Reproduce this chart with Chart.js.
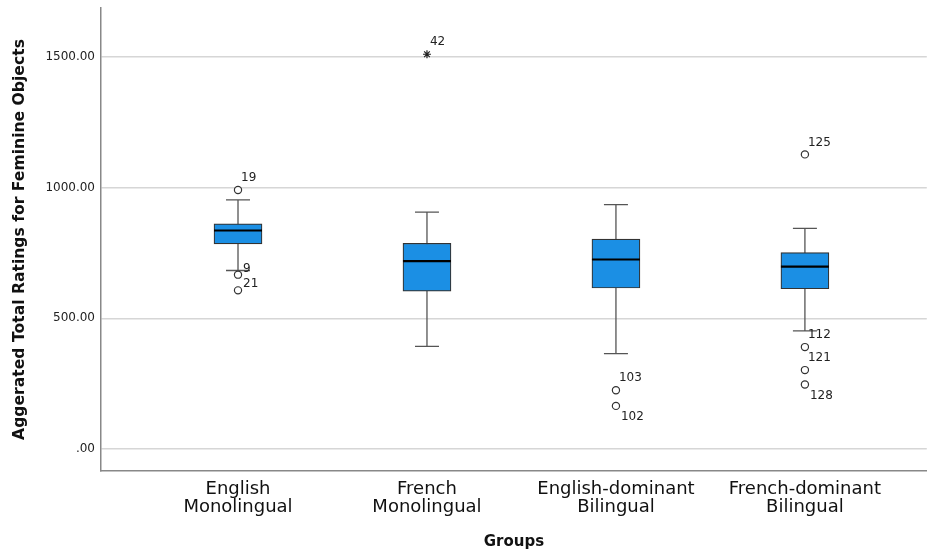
<!DOCTYPE html>
<html>
<head>
<meta charset="utf-8">
<script src="https://cdn.jsdelivr.net/npm/chart.js@4.4.1/dist/chart.umd.min.js"></script>
<style>
  html, body { margin: 0; padding: 0; background: #fff; overflow: hidden; }
  #wrap { width: 932px; height: 557px; }
</style>
</head>
<body>
<div id="wrap"><canvas id="boxChart"></canvas></div>
<script>
// groups and box statistics
const groups = [["English", "Monolingual"], ["French", "Monolingual"], ["English-dominant", "Bilingual"], ["French-dominant", "Bilingual"]];
const whiskerLow = [683, 393, 365, 452];
const q1 = [785, 604, 616, 613];
const median = [836, 719, 725, 698];
const q3 = [861, 787, 803, 751];
const whiskerHigh = [953, 906, 935, 844];

// outliers (circles): group number, value, case id
const outlierGroup = [1, 1, 1, 3, 3, 4, 4, 4, 4];
const outlierValue = [991, 667, 607, 225, 165, 1127, 390, 302, 247];
const outlierId = ["19", "9", "21", "103", "102", "125", "112", "121", "128"];
// extremes (stars)
const extremeGroup = [2];
const extremeValue = [1510];
const extremeId = ["42"];

const yTicks = [0, 500, 1000, 1500];

// where each case label sits relative to its marker
const labelSpot = { "19": "up", "9": "side", "21": "side", "103": "up", "102": "down",
  "125": "up", "112": "up", "121": "up", "128": "down", "42": "up" };
const spotOffset = { up: [3, -12], down: [5, 11], side: [5, -6] };

const boxPlugin = {
  id: "boxParts",
  beforeDatasetsDraw(chart) {
    const { ctx, scales: { x, y } } = chart;
    ctx.save();
    ctx.strokeStyle = "#555";
    ctx.lineWidth = 1.3;
    groups.forEach((g, i) => {
      const cx = x.getPixelForValue(i + 1);
      const lo = y.getPixelForValue(whiskerLow[i]);
      const hi = y.getPixelForValue(whiskerHigh[i]);
      ctx.beginPath();
      ctx.moveTo(cx, lo); ctx.lineTo(cx, hi);
      ctx.moveTo(cx - 12, lo); ctx.lineTo(cx + 12, lo);
      ctx.moveTo(cx - 12, hi); ctx.lineTo(cx + 12, hi);
      ctx.stroke();
    });
    ctx.restore();
  },
  afterDatasetsDraw(chart) {
    const { ctx, scales: { x, y } } = chart;
    ctx.save();
    ctx.strokeStyle = "#000";
    ctx.lineWidth = 2.2;
    groups.forEach((g, i) => {
      const cx = x.getPixelForValue(i + 1);
      const m = y.getPixelForValue(median[i]);
      ctx.beginPath();
      ctx.moveTo(cx - 24, m); ctx.lineTo(cx + 24, m);
      ctx.stroke();
    });
    ctx.fillStyle = "#222";
    ctx.font = "12px 'DejaVu Sans'";
    ctx.textBaseline = "middle";
    ctx.textAlign = "left";
    const label = (grp, val, id) => {
      const off = spotOffset[labelSpot[id]];
      ctx.fillText(id, x.getPixelForValue(grp) + off[0], y.getPixelForValue(val) + off[1]);
    };
    outlierId.forEach((id, i) => label(outlierGroup[i], outlierValue[i], id));
    extremeId.forEach((id, i) => label(extremeGroup[i], extremeValue[i], id));
    ctx.restore();
  }
};

new Chart(document.getElementById("boxChart"), {
  type: "bar",
  data: {
    datasets: [
      {
        label: "box",
        data: groups.map((g, i) => ({ x: i + 1, y: [q1[i], q3[i]] })),
        backgroundColor: "#1b8fe4",
        borderColor: "#333",
        borderWidth: 1.2,
        borderSkipped: false,
        barThickness: 48
      },
      {
        type: "scatter",
        label: "outliers",
        data: outlierValue.map((v, i) => ({ x: outlierGroup[i], y: v })),
        pointStyle: "circle",
        pointRadius: 3.6,
        pointBorderWidth: 1.2,
        pointBorderColor: "#333",
        pointBackgroundColor: "#fff"
      },
      {
        type: "scatter",
        label: "extremes",
        data: extremeValue.map((v, i) => ({ x: extremeGroup[i], y: v })),
        pointStyle: "star",
        pointRadius: 4,
        pointBorderWidth: 1.2,
        pointBorderColor: "#222",
        pointBackgroundColor: "#222"
      }
    ]
  },
  options: {
    responsive: true,
    maintainAspectRatio: false,
    animation: false,
    layout: { padding: { top: 8, right: 0, left: 0, bottom: 0 } },
    plugins: { legend: { display: false }, tooltip: { enabled: false } },
    scales: {
      x: {
        type: "linear",
        offset: false,
        min: 0.275,
        max: 4.645,
        afterBuildTicks: s => { s.ticks = groups.map((g, i) => ({ value: i + 1 })); },
        afterFit: s => { s.height = 86; s.paddingRight = 0; },
        grid: { display: false, drawTicks: false },
        border: { display: true, color: "#888", width: 1.5 },
        ticks: {
          autoSkip: false,
          maxRotation: 0,
          padding: 9,
          color: "#111",
          font: { family: "DejaVu Sans", size: 18, lineHeight: 1.0 },
          callback: v => groups[v - 1]
        },
        title: {
          display: true,
          text: "Groups",
          color: "#111",
          font: { family: "DejaVu Sans", size: 15, weight: "bold" },
          padding: { top: 0, bottom: 6 }
        }
      },
      y: {
        min: -84,
        max: 1687,
        afterBuildTicks: s => { s.ticks = yTicks.map(v => ({ value: v })); },
        afterFit: s => { s.width = 101; s.paddingTop = 0; },
        grid: { color: "#d6d6d6", lineWidth: 1.5, drawTicks: false },
        border: { display: true, color: "#888", width: 1.5 },
        ticks: {
          padding: 6,
          color: "#222",
          font: { family: "DejaVu Sans", size: 12 },
          callback: v => v === 0 ? ".00" : v.toFixed(2)
        },
        title: {
          display: true,
          text: "Aggerated Total Ratings for Feminine Objects",
          color: "#111",
          font: { family: "DejaVu Sans", size: 15.6, weight: "bold" },
          padding: { top: 11, bottom: 0 }
        }
      }
    }
  },
  plugins: [boxPlugin]
});
</script>
</body>
</html>
